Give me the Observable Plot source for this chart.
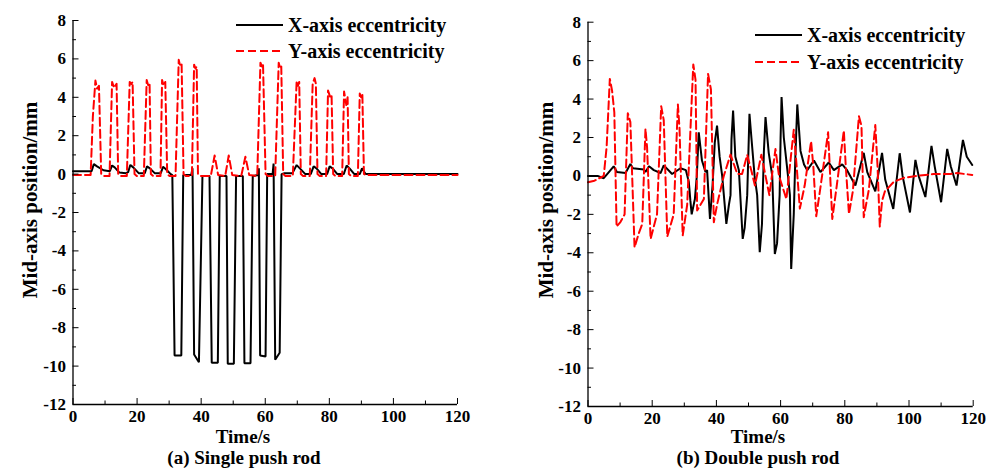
<!DOCTYPE html>
<html><head><meta charset="utf-8">
<script src="https://cdn.jsdelivr.net/npm/d3@7"></script>
<script src="https://cdn.jsdelivr.net/npm/@observablehq/plot@0.6"></script>
<style>
html,body{margin:0;padding:0;background:#fff;}
#wrap{position:relative;width:991px;height:469px;overflow:hidden;font-family:"Liberation Serif","Times New Roman",serif;font-weight:bold;color:#000;}
.panel{position:absolute;top:0;}
.t{position:absolute;white-space:nowrap;transform:translate(-50%,-50%);line-height:1;}
.ylab{position:absolute;white-space:nowrap;transform:translate(-50%,-50%) rotate(-90deg);font-size:21px;line-height:1;}
.leg{position:absolute;display:flex;align-items:center;font-size:20px;line-height:1;white-space:nowrap;}
.leg svg{margin-right:5px;}
</style></head>
<body><div id="wrap"></div>
<script>
// ---- axis ticks ----
const xMajor = [0, 20, 40, 60, 80, 100, 120];
const xMinor = [10, 30, 50, 70, 90, 110];
const yMajor = [-12, -10, -8, -6, -4, -2, 0, 2, 4, 6, 8];
const yMinor = [-11, -9, -7, -5, -3, -1, 1, 3, 5, 7];

const seriesNames = ["X-axis eccentricity", "Y-axis eccentricity"];
const panelTitles = ["(a) Single push rod", "(b) Double push rod"];
const xTitle = "Time/s";
const yTitle = "Mid-axis position/mm";

// ---- (a) single push rod: [time s, mm] ----
const singleX = [[0,0.15],[5.8,0.15],[6.5,0.52],[7.5,0.4],[9.5,0.2],[11.5,0.15],[12.2,0.45],[13,0.35],[14.5,0.08],[16.5,0.05],[17.2,0.1],[17.9,0.48],[18.8,0.35],[20.5,0.05],[22.4,0.05],[23.1,0.4],[24,0.3],[25.5,0.05],[27.4,0.05],[28.1,0.38],[29,0.25],[30.5,0],[31.0,-0.05],
 [31.7,-9.45],[33.8,-9.45],[34.4,-0.05],[36.9,-0.05],[37.3,0.3],[37.8,-9.4],[39.3,-9.8],[40.4,-0.1],[42.6,-0.1],[43.3,-9.83],[45.2,-9.83],[45.8,-0.1],[47.9,-0.1],[48.3,-9.88],[50.2,-9.88],[50.9,-0.1],[53.0,-0.1],[53.5,-9.85],[55.4,-9.85],[56.1,-0.1],[57.8,-0.05],[58.0,0.3],[58.4,-9.45],[60.1,-9.5],[60.6,0],[62.3,0],[62.6,0.55],[63.1,-9.67],[64.5,-9.3],[65.1,0],
 [66,0.05],[68.5,0.05],[69.8,0.47],[70.8,0.3],[72.5,0],[74.2,0],[75.1,0.4],[76,0.3],[77.5,0],[79.3,0],[80.1,0.4],[81,0.3],[82.5,0],[84.5,0],[85.4,0.45],[86.3,0.3],[87.8,0],[89.5,0],[90.2,0.3],[91.3,0],[120,0]];
const singleY = [[0,-0.05],[5.5,-0.05],[6.2,3.0],[7.0,4.87],[7.5,4.45],[8.1,4.6],[8.8,0],[9.5,-0.1],
 [11.4,-0.1],[12.2,4.8],[12.8,4.5],[13.6,4.7],[14.1,0],[14.8,-0.1],
 [16.8,-0.1],[17.7,4.8],[18.2,4.7],[18.6,4.8],[19.2,0],[19.9,-0.1],
 [22.1,-0.1],[23.0,4.9],[23.5,4.6],[23.9,4.7],[24.3,0],[25,-0.1],
 [27.3,-0.1],[27.8,4.9],[28.3,4.6],[28.8,4.8],[29.4,0],[30.1,-0.1],
 [32.0,-0.1],[33.0,5.95],[33.5,5.6],[33.9,5.7],[34.5,0],[35.2,-0.1],
 [37.1,-0.1],[37.8,5.7],[38.2,5.5],[38.6,5.6],[39.0,0],[39.7,-0.1],
 [43.0,-0.1],[44.2,0.97],[45.3,-0.05],[47.5,-0.1],[48.6,0.97],[49.7,-0.05],[52.5,-0.1],[53.8,0.9],[55.0,-0.05],
 [57.5,-0.1],[58.5,5.8],[59.0,5.6],[59.3,5.75],[60.1,0],[60.8,-0.1],
 [63.1,-0.1],[64.2,5.8],[64.7,5.5],[65.0,5.6],[65.6,0],[66.3,-0.1],
 [68.6,-0.1],[69.8,4.85],[70.2,4.6],[70.6,4.8],[71.1,0],[71.8,-0.1],
 [73.9,-0.1],[74.8,4.7],[75.4,5.0],[75.8,4.7],[76.3,0],[77,-0.1],
 [79.0,-0.1],[79.6,4.35],[80.3,4.0],[80.7,4.1],[81.2,0],[81.9,-0.1],
 [84.0,-0.1],[84.6,4.3],[85.3,3.6],[85.7,4.0],[86.1,0],[86.8,-0.1],
 [88.9,-0.1],[89.5,4.2],[89.9,4.0],[90.3,4.2],[90.8,0],[91.5,-0.05],[120,-0.05]];

// ---- (b) double push rod: [time s, mm] ----
const doubleX = [[0,0],[3,0],[4.9,-0.12],[6.5,0.2],[8.0,0.5],[9.0,0.2],[11.7,0.15],[13.2,0.62],[14.0,0.4],[17.4,0.33],[17.9,0.2],[19.0,0.5],[20.5,0.3],[22.6,0.15],[23.6,0.55],[26.2,0.1],[28.8,0.4],[30.5,0.3],[31.4,-0.3],[31.9,-1.3],[32.3,-2.0],[33.3,-1.2],[33.9,0],[34.5,2.27],[35.5,0.8],[36.6,0.2],[37.1,0.3],[38.0,-2.24],[38.8,-0.5],[39.5,1.75],[40.2,2.62],[41.0,1.0],[41.8,0],[43.1,-2.5],[43.9,-1.5],[44.4,-1.0],[44.7,1.9],[45.2,3.4],[45.9,1.0],[47.0,0.3],[48.2,-3.28],[48.8,-2.7],[49.6,-1.0],[50.3,3.23],[50.9,2.0],[51.9,0],[52.7,-1.0],[53.5,-3.97],[54.2,-2.5],[54.8,1.3],[55.3,3.06],[56.3,1.2],[57.4,0],[58.2,-4.06],[58.9,-3.5],[59.7,-1.0],[60.0,2.0],[60.3,4.1],[61.0,2.0],[62.3,0],[62.9,-1.0],[63.3,-4.84],[64.1,-2.0],[64.6,1.0],[65.2,3.72],[66.2,1.3],[67.3,0.6],[68.3,0.3],[70.4,0.8],[72.4,0.2],[75.0,0.7],[76.6,0.3],[79.2,0.6],[80.7,0.3],[83.3,-0.5],[85.9,1.2],[87.0,0.2],[89.5,-0.8],[91.6,1.2],[92.6,-0.2],[95.1,-1.72],[97.1,1.18],[98.0,0],[100.3,-1.9],[102.0,0.83],[103.0,0],[105.1,-1.1],[107.0,1.56],[108.0,0.5],[110.0,-1.37],[111.9,1.41],[113.0,0.5],[114.8,-0.5],[116.8,1.87],[118,1.0],[119.7,0.57]];
const doubleY = [[0,-0.33],[2,-0.25],[4.9,0],[5.8,1.5],[6.8,5.05],[7.5,4.44],[8.2,3.3],[8.9,-2.64],[10.1,-2.4],[11.4,-2.0],[12.4,3.26],[13.2,2.8],[14.5,-3.72],[15.8,-3.0],[16.9,-2.5],[17.9,2.45],[18.4,1.5],[19.5,-3.28],[21.5,-2.0],[22.8,3.63],[23.6,2.9],[24.7,-3.16],[26.7,-2.0],[28.0,3.72],[28.5,2.5],[29.5,-3.1],[30.9,-1.5],[32.8,5.8],[33.5,5.0],[34.0,-1.8],[36.1,-1.2],[37.4,5.31],[38.3,4.5],[39.2,-2.41],[40.2,-1.5],[42.3,0],[44.4,1.11],[46.5,0.1],[48.0,0.1],[49.6,1.1],[51.0,0.2],[52.0,-0.5],[54.0,1.1],[55.3,0.0],[56.5,-1.0],[58.4,1.4],[59.5,0.0],[61.8,-1.2],[64.1,2.4],[65.0,0.5],[66.0,-1.7],[67.5,-0.5],[69.5,1.8],[70.2,0.5],[71.1,-2.1],[72.5,-0.5],[74.8,2.27],[75.3,0.5],[76.1,-2.24],[77.5,-0.5],[79.7,2.36],[80.3,0.5],[81.3,-1.98],[82.5,-0.8],[84.4,3.1],[85.2,2.6],[85.9,-2.15],[87.5,-0.7],[89.5,2.65],[90.2,0.5],[90.9,-2.64],[91.6,-1.3],[92.5,-0.8],[95.3,-0.3],[98.4,-0.1],[102.5,0],[107.7,0.1],[112.9,0.1],[115,0.15],[119.7,0.05]];

const FONT = '"Liberation Serif","Times New Roman",serif';

function makePanel(cfg) {
  const H = 469;
  const plotW = cfg.width - cfg.ml - cfg.mr;
  const plotH = H - cfg.mt - cfg.mb;
  return Plot.plot({
    width: cfg.width, height: H,
    marginLeft: cfg.ml, marginRight: cfg.mr, marginTop: cfg.mt, marginBottom: cfg.mb,
    style: {fontFamily: FONT, fontSize: "17px", fontWeight: "bold", color: "#000", background: "transparent", overflow: "visible"},
    x: {domain: [0, 120]},
    y: {domain: [-12, 8]},
    marks: [
      Plot.line(cfg.xs, {x: d => d[0], y: d => d[1], stroke: "#000", strokeWidth: 2, strokeLinejoin: "miter"}),
      Plot.line(cfg.ys, {x: d => d[0], y: d => d[1], stroke: "#ff0000", strokeWidth: 2, strokeDasharray: "8,4"}),
      Plot.ruleX([0], {stroke: "#000", strokeWidth: 1.3}),
      Plot.ruleY([-12], {stroke: "#000", strokeWidth: 1.3}),
      Plot.tickY(yMajor, {y: d => d, insetRight: plotW - 6, stroke: "#000", strokeWidth: 1}),
      Plot.tickY(yMinor, {y: d => d, insetRight: plotW - 3.5, stroke: "#000", strokeWidth: 1}),
      Plot.tickX(xMajor, {x: d => d, insetTop: plotH - 6, stroke: "#000", strokeWidth: 1}),
      Plot.tickX(xMinor, {x: d => d, insetTop: plotH - 3.5, stroke: "#000", strokeWidth: 1}),
      Plot.axisX({ticks: xMajor, tickSize: 0, tickPadding: 5, label: null, tickFormat: d => String(d)}),
      Plot.axisY({ticks: yMajor, tickSize: 0, tickPadding: 7, label: null, tickFormat: d => String(d)})
    ]
  });
}

const wrap = document.getElementById("wrap");

const pa = makePanel({width: 480, ml: 72.5, mr: 23, mt: 20, mb: 65, xs: singleX, ys: singleY});
pa.classList.add("panel"); pa.style.left = "0px";
wrap.appendChild(pa);

const pb = makePanel({width: 491, ml: 87.5, mr: 18.3, mt: 21.7, mb: 63, xs: doubleX, ys: doubleY});
pb.classList.add("panel"); pb.style.left = "500px";
wrap.appendChild(pb);

function addText(txt, cls, x, y, size) {
  const d = document.createElement("div");
  d.className = cls; d.textContent = txt;
  d.style.left = x + "px"; d.style.top = y + "px";
  if (size) d.style.fontSize = size + "px";
  wrap.appendChild(d);
}
addText(yTitle, "ylab", 30, 200);
addText(yTitle, "ylab", 546, 200);
addText(xTitle, "t", 243, 436, 19);
addText(xTitle, "t", 758, 436, 19);
addText(panelTitles[0], "t", 244, 457, 19);
addText(panelTitles[1], "t", 758, 457, 19);

function addLegend(x0, yRows) {
  seriesNames.forEach((name, i) => {
    const row = document.createElement("div");
    row.className = "leg";
    row.style.left = x0 + "px";
    row.style.top = (yRows[i] - 10) + "px";
    row.style.height = "20px";
    const dash = i === 0 ? "" : 'stroke-dasharray="8,4"';
    const col = i === 0 ? "#000" : "#ff0000";
    row.innerHTML = `<svg width="47" height="6"><line x1="0" y1="3" x2="47" y2="3" stroke="${col}" stroke-width="2.2" ${dash}/></svg><span>${name}</span>`;
    wrap.appendChild(row);
  });
}
addLegend(236, [25, 51]);
addLegend(755, [35, 62]);
</script>
</body></html>
